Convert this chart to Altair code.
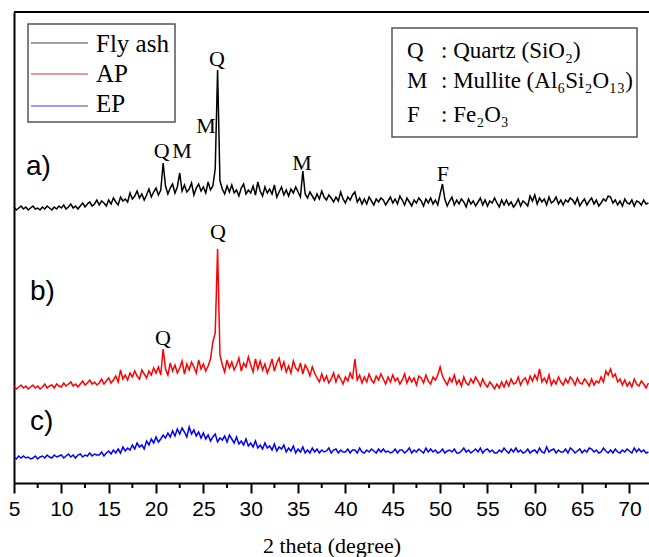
import altair as alt
import pandas as pd
import numpy as np

# ---------------- data ----------------
theta_start = 5.0
theta_step = 0.25

# Fly ash (a) - intensity (a.u., offset trace), one row per degree (x.00, x.25, x.50, x.75)
fly_ash = [
    276, 273, 275, 277,  # 5
    274, 276, 273, 275,  # 6
    277, 274, 275, 273,  # 7
    276, 274, 277, 275,  # 8
    273, 276, 274, 277,  # 9
    275, 278, 274, 276,  # 10
    279, 275, 277, 274,  # 11
    277, 280, 276, 279,  # 12
    281, 277, 279, 283,  # 13
    278, 282, 280, 277,  # 14
    283, 279, 285, 281,  # 15
    278, 286, 282, 284,  # 16
    281, 290, 284, 287,  # 17
    292, 285, 289, 283,  # 18
    288, 294, 286, 291,  # 19
    295, 288, 293, 320,  # 20
    297, 289, 295, 299,  # 21
    290, 296, 310, 292,  # 22
    298, 291, 294, 300,  # 23
    288, 295, 299, 292,  # 24
    296, 290, 301, 293,  # 25
    297, 314, 413, 302,  # 26
    294, 289, 297, 291,  # 27
    298, 290, 293, 287,  # 28
    295, 299, 289, 293,  # 29
    290, 297, 288, 301,  # 30
    292, 287, 296, 290,  # 31
    294, 289, 298, 286,  # 32
    291, 296, 288, 293,  # 33
    287, 294, 290, 296,  # 34
    291, 286, 312, 289,  # 35
    285, 291, 287, 283,  # 36
    289, 284, 292, 286,  # 37
    283, 288, 285, 281,  # 38
    286, 282, 291, 284,  # 39
    280, 286, 283, 288,  # 40
    291, 281, 285, 279,  # 41
    284, 279, 286, 282,  # 42
    278, 284, 281, 285,  # 43
    283, 278, 282, 286,  # 44
    280, 284, 279, 287,  # 45
    283, 278, 285, 281,  # 46
    277, 283, 280, 285,  # 47
    282, 277, 284, 280,  # 48
    285, 279, 283, 278,  # 49
    289, 299, 284, 277,  # 50
    282, 286, 278, 283,  # 51
    279, 284, 281, 276,  # 52
    284, 279, 282, 277,  # 53
    281, 285, 278, 283,  # 54
    277, 282, 280, 285,  # 55
    280, 276, 283, 278,  # 56
    283, 278, 281, 276,  # 57
    279, 284, 277, 282,  # 58
    280, 277, 287, 282,  # 59
    288, 279, 285, 281,  # 60
    284, 278, 286, 280,  # 61
    282, 286, 279, 283,  # 62
    278, 283, 281, 285,  # 63
    283, 279, 285, 277,  # 64
    281, 284, 278, 282,  # 65
    285, 279, 283, 277,  # 66
    280, 284, 282, 287,  # 67
    286, 280, 283, 278,  # 68
    282, 277, 284, 280,  # 69
    279, 283, 277, 282,  # 70
    281, 278, 283, 279,  # 71
    280,                 # 72
]

# AP (b)
ap = [
    97, 94, 96, 98,      # 5
    95, 97, 94, 96,      # 6
    98, 95, 97, 94,      # 7
    96, 99, 95, 97,      # 8
    98, 95, 99, 97,      # 9
    96, 100, 97, 99,     # 10
    101, 97, 99, 96,     # 11
    99, 102, 98, 100,    # 12
    103, 99, 101, 98,    # 13
    100, 104, 99, 102,   # 14
    105, 100, 103, 107,  # 15
    101, 113, 104, 108,  # 16
    103, 110, 106, 112,  # 17
    107, 104, 113, 109,  # 18
    105, 112, 108, 115,  # 19
    110, 116, 108, 134,  # 20
    114, 108, 120, 112,  # 21
    118, 110, 115, 122,  # 22
    109, 119, 113, 121,  # 23
    116, 110, 123, 114,  # 24
    119, 112, 117, 124,  # 25
    141, 150, 234, 128,  # 26
    118, 111, 123, 115,  # 27
    121, 113, 118, 125,  # 28
    112, 120, 116, 126,  # 29
    118, 111, 124, 114,  # 30
    122, 113, 119, 110,  # 31
    116, 124, 112, 120,  # 32
    125, 114, 121, 111,  # 33
    117, 110, 122, 115,  # 34
    112, 120, 109, 118,  # 35
    114, 107, 116, 110,  # 36
    105, 101, 109, 102,  # 37
    107, 100, 104, 110,  # 38
    101, 108, 104, 99,   # 39
    106, 102, 110, 104,  # 40
    124, 103, 108, 100,  # 41
    106, 101, 109, 103,  # 42
    100, 107, 103, 109,  # 43
    104, 99, 106, 101,   # 44
    108, 102, 105, 99,   # 45
    103, 109, 100, 106,  # 46
    101, 105, 98, 107,   # 47
    105, 100, 108, 102,  # 48
    99, 106, 103, 108,   # 49
    116, 107, 102, 98,   # 50
    105, 101, 108, 99,   # 51
    103, 97, 106, 100,   # 52
    98, 104, 100, 106,   # 53
    102, 97, 104, 99,    # 54
    96, 101, 98, 94,     # 55
    99, 95, 101, 96,     # 56
    102, 97, 104, 99,    # 57
    100, 106, 98, 103,   # 58
    105, 99, 107, 102,   # 59
    108, 103, 114, 101,  # 60
    105, 100, 108, 98,   # 61
    103, 99, 106, 101,   # 62
    98, 104, 100, 106,   # 63
    103, 98, 105, 100,   # 64
    99, 104, 101, 97,    # 65
    104, 98, 102, 100,   # 66
    106, 101, 112, 108,  # 67
    114, 106, 109, 101,  # 68
    104, 98, 103, 97,    # 69
    101, 96, 104, 99,    # 70
    97, 102, 99, 95,     # 71
    100,                 # 72
]

# EP (c)
ep = [
    26, 24, 27, 25,  # 5
    27, 25, 26, 24,  # 6
    25, 27, 24, 26,  # 7
    27, 25, 28, 26,  # 8
    25, 28, 26, 27,  # 9
    28, 25, 27, 29,  # 10
    26, 28, 25, 28,  # 11
    29, 26, 28, 27,  # 12
    30, 27, 29, 28,  # 13
    28, 31, 27, 30,  # 14
    32, 29, 33, 30,  # 15
    34, 30, 36, 32,  # 16
    35, 33, 38, 34,  # 17
    40, 36, 38, 34,  # 18
    42, 38, 44, 40,  # 19
    46, 41, 44, 48,  # 20
    45, 50, 46, 52,  # 21
    47, 54, 49, 55,  # 22
    51, 46, 56, 49,  # 23
    53, 47, 51, 45,  # 24
    50, 44, 48, 42,  # 25
    46, 49, 41, 45,  # 26
    43, 47, 41, 48,  # 27
    44, 40, 46, 39,  # 28
    42, 38, 44, 37,  # 29
    40, 36, 42, 35,  # 30
    38, 34, 40, 35,  # 31
    37, 33, 39, 32,  # 32
    36, 34, 38, 31,  # 33
    35, 32, 37, 30,  # 34
    34, 31, 36, 30,  # 35
    33, 30, 35, 31,  # 36
    34, 30, 33, 31,  # 37
    32, 35, 30, 33,  # 38
    34, 30, 33, 31,  # 39
    31, 34, 30, 33,  # 40
    33, 30, 35, 31,  # 41
    30, 33, 31, 34,  # 42
    32, 30, 34, 31,  # 43
    34, 31, 32, 30,  # 44
    31, 34, 30, 33,  # 45
    33, 30, 32, 35,  # 46
    30, 33, 31, 34,  # 47
    32, 30, 35, 31,  # 48
    34, 31, 33, 30,  # 49
    31, 34, 30, 32,  # 50
    33, 31, 34, 30,  # 51
    30, 32, 35, 31,  # 52
    33, 30, 32, 34,  # 53
    31, 35, 30, 33,  # 54
    34, 31, 33, 30,  # 55
    30, 33, 31, 35,  # 56
    32, 30, 34, 31,  # 57
    35, 31, 33, 30,  # 58
    31, 34, 30, 32,  # 59
    33, 30, 35, 31,  # 60
    30, 36, 31, 33,  # 61
    34, 30, 33, 31,  # 62
    31, 34, 30, 35,  # 63
    33, 30, 32, 34,  # 64
    30, 33, 31, 35,  # 65
    34, 31, 33, 30,  # 66
    31, 35, 32, 30,  # 67
    33, 30, 34, 31,  # 68
    30, 33, 31, 34,  # 69
    32, 30, 35, 31,  # 70
    34, 31, 33, 30,  # 71
    31,              # 72
]

series_names = ["Fly ash", "AP", "EP"]
series_colors = ["#000000", "#ff0000", "#0000ff"]
legend_line_colors = ["#444444", "#d03030", "#4040c0"]

x_ticks = [5, 10, 15, 20, 25, 30, 35, 40, 45, 50, 55, 60, 65, 70]
x_minor_ticks = [7.5, 12.5, 17.5, 22.5, 27.5, 32.5, 37.5, 42.5, 47.5, 52.5, 57.5, 62.5, 67.5]

peak_text = ["Q", "M", "Q", "M", "M", "F", "Q", "Q"]
peak_theta = [26.44, 25.27, 20.6, 22.75, 35.41, 50.3, 26.54, 20.73]
peak_level = [417, 350, 325, 325, 313, 302, 244, 138]

panel_text = ["a)", "b)", "c)"]
panel_theta = [6.27, 6.69, 6.69]
panel_level = [308, 183, 53]

phase_letters = ["Q", "M", "F"]
phase_desc = [": Quartz (SiO\u2082)", ": Mullite (Al\u2086Si\u2082O\u2081\u2083)", ":  Fe\u2082O\u2083"]

# ---------------- layout ----------------
W, H = 635, 471
X_DOMAIN = [5, 72.06]
Y_DOMAIN = [0, 471]

n = len(fly_ash)
assert n == len(ap) == len(ep)
theta = theta_start + theta_step * np.arange(n)

df = pd.concat([
    pd.DataFrame({"theta": theta, "intensity": vals, "sample": name})
    for name, vals in zip(series_names, [fly_ash, ap, ep])
])

xscale = alt.Scale(domain=X_DOMAIN, nice=False, zero=False)
yscale = alt.Scale(domain=Y_DOMAIN, nice=False, zero=False)
xaxis = alt.Axis(values=x_ticks, tickSize=10, tickWidth=2, tickColor="black",
                 domainWidth=2, domainColor="black", grid=False,
                 labelFont="Liberation Sans", labelFontSize=21, labelColor="black",
                 labelPadding=5, labelFlush=False, labelOverlap=False,
                 title="2 theta (degree)", titleFont="Liberation Serif",
                 titleFontSize=22, titleFontWeight="normal", titleColor="black",
                 titlePadding=16)
yaxis = alt.Axis(labels=False, ticks=False, title=None, grid=False,
                 domainWidth=2, domainColor="black")
color = alt.Color("sample:N", scale=alt.Scale(domain=series_names, range=series_colors), legend=None)

lines = alt.Chart(df).mark_line(strokeWidth=1.5).encode(
    x=alt.X("theta:Q", scale=xscale, axis=xaxis),
    y=alt.Y("intensity:Q", scale=yscale, axis=yaxis),
    color=color,
    detail="sample:N",
)

top_border = alt.Chart(pd.DataFrame({"k": [0]})).mark_rule(color="black", strokeWidth=2).encode(
    x=alt.value(0), x2=alt.value(W), y=alt.value(0)
)

minor = alt.Chart(pd.DataFrame({"theta": x_minor_ticks})).mark_rule(color="black", strokeWidth=2).encode(
    x=alt.X("theta:Q", scale=xscale, axis=xaxis), y=alt.value(H), y2=alt.value(H + 5)
)

peaks = alt.Chart(pd.DataFrame({"theta": peak_theta, "intensity": peak_level, "t": peak_text})).mark_text(
    font="Liberation Serif", fontSize=22, baseline="alphabetic", align="center", color="black"
).encode(x=alt.X("theta:Q", scale=xscale, axis=xaxis), y=alt.Y("intensity:Q", scale=yscale, axis=yaxis), text="t:N")

panels = alt.Chart(pd.DataFrame({"theta": panel_theta, "intensity": panel_level, "t": panel_text})).mark_text(
    font="Liberation Sans", fontSize=28, baseline="alphabetic", align="left", color="black"
).encode(x=alt.X("theta:Q", scale=xscale, axis=xaxis), y=alt.Y("intensity:Q", scale=yscale, axis=yaxis), text="t:N")

# left legend (series)
leg_df = pd.DataFrame({"sample": series_names, "col": legend_line_colors,
                       "ly": [31, 62, 94], "ty": [40, 70, 100]})
leg_box = alt.Chart(pd.DataFrame({"k": [0]})).mark_rect(fill="white", fillOpacity=0, stroke="#555555", strokeWidth=1.5).encode(
    x=alt.value(14), x2=alt.value(161), y=alt.value(12), y2=alt.value(110)
)
leg_lines = alt.Chart(leg_df).mark_rule(strokeWidth=1.2).encode(
    x=alt.value(17), x2=alt.value(74), y=alt.Y("ly:Q", scale=None, axis=None),
    color=alt.Color("col:N", scale=None, legend=None)
)
leg_text = alt.Chart(leg_df).mark_text(font="Liberation Serif", fontSize=25, baseline="alphabetic",
                                       align="left", color="black").encode(
    x=alt.value(82), y=alt.Y("ty:Q", scale=None, axis=None), text="sample:N"
)

# right legend (phases)
ph_df = pd.DataFrame({"letter": phase_letters, "desc": phase_desc, "ty": [46, 76, 110]})
ph_box = alt.Chart(pd.DataFrame({"k": [0]})).mark_rect(fill="white", fillOpacity=0, stroke="#555555", strokeWidth=1.5).encode(
    x=alt.value(378), x2=alt.value(623), y=alt.value(16), y2=alt.value(125)
)
ph_letter = alt.Chart(ph_df).mark_text(font="Liberation Serif", fontSize=23, baseline="alphabetic",
                                       align="left", color="black").encode(
    x=alt.value(393), y=alt.Y("ty:Q", scale=None, axis=None), text="letter:N"
)
ph_desc = alt.Chart(ph_df).mark_text(font="Liberation Serif", fontSize=23, baseline="alphabetic",
                                     align="left", color="black").encode(
    x=alt.value(427), y=alt.Y("ty:Q", scale=None, axis=None), text="desc:N"
)

chart = alt.layer(
    lines, top_border, minor, peaks, panels, leg_box, leg_lines, leg_text, ph_box, ph_letter, ph_desc
).properties(
    width=W, height=H,
    autosize=alt.AutoSizeParams(type="none"),
    padding={"left": 14, "top": 12, "right": 0, "bottom": 74},
    background="white",
).configure_view(stroke=None)

chart.save("out.html", embed_options={"renderer": "svg", "actions": False})
